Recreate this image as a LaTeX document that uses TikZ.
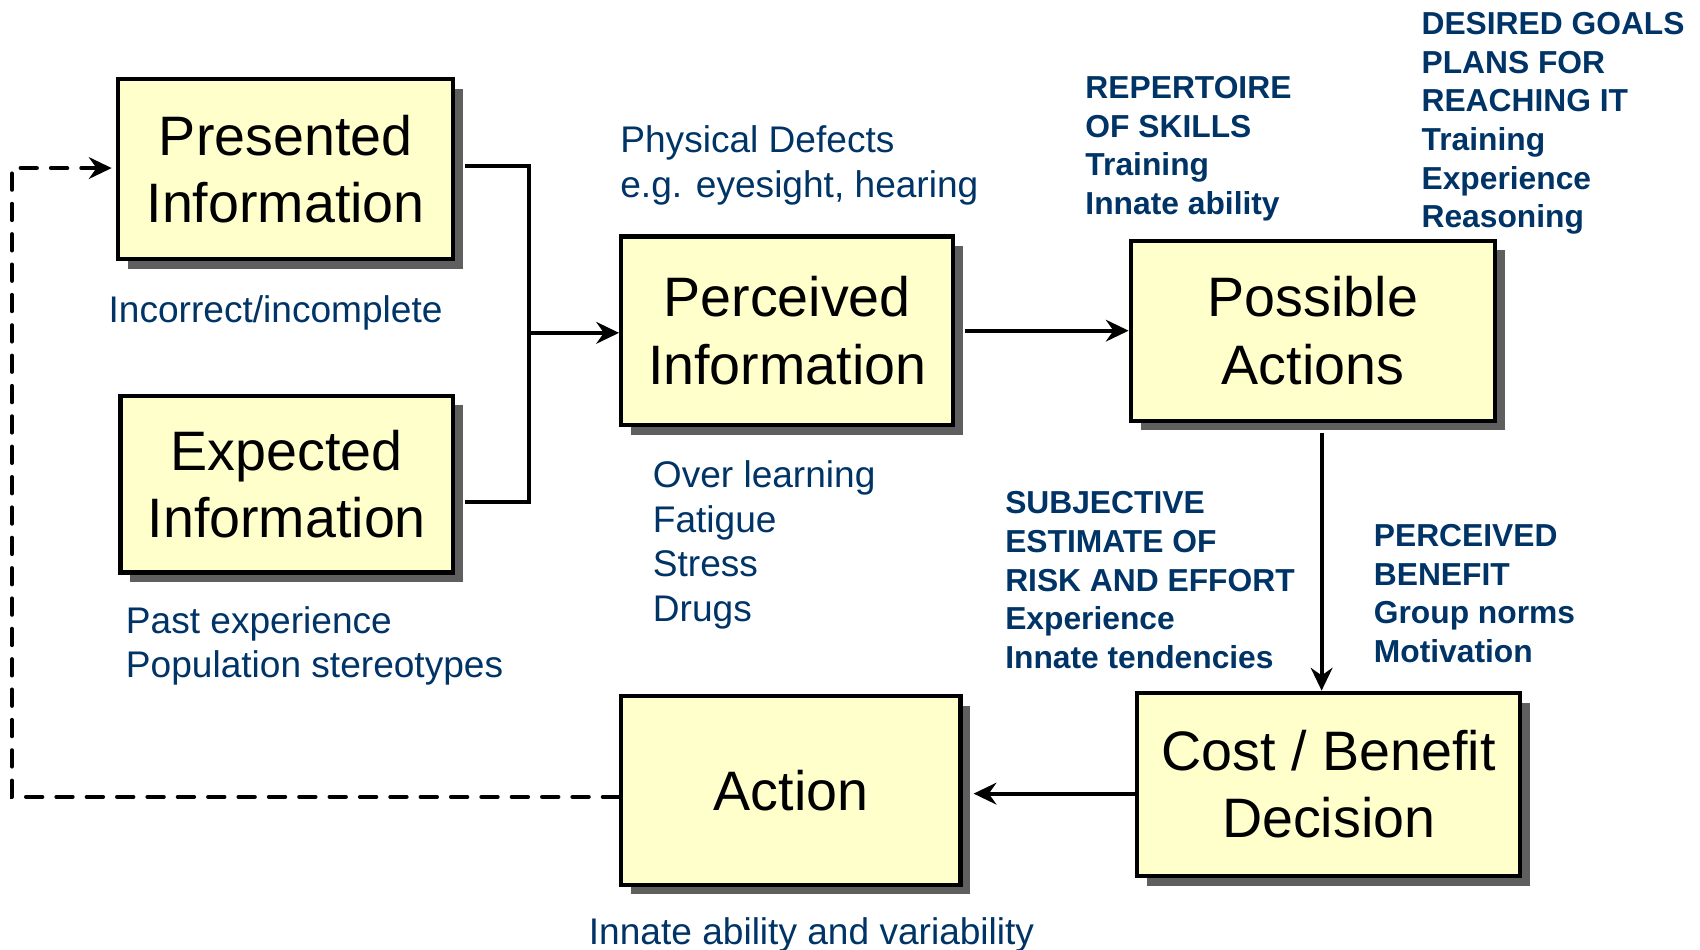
\documentclass[tikz,border=0pt]{standalone}
\usepackage{fontspec}
\setmainfont{Liberation Sans}
\usetikzlibrary{arrows.meta,shadows}

\definecolor{boxfill}{HTML}{FFFFCC}
\definecolor{shade}{HTML}{5F5F5F}
\definecolor{note}{RGB}{0,51,102}

% left-aligned block of lines whose anchor is the first baseline
\newcommand{\linesblock}[1]{\parbox[t]{560pt}{\raggedright #1}}

\begin{document}
\begin{tikzpicture}[x=1pt,y=-1pt,
  stage/.style={draw=black, line width=4pt, fill=boxfill, align=center,
    inner sep=0pt, font=\fontsize{51.3}{62}\selectfont,
    drop shadow={shadow xshift=9pt, shadow yshift=-9pt, fill=shade, opacity=1}},
  remark/.style={anchor=base west, inner sep=0pt, text=note,
    font=\fontsize{34.2}{41}\selectfont},
  factor/.style={anchor=base west, inner sep=0pt, text=note,
    font=\fontsize{29.3}{35.6}\selectfont\bfseries},
  flow/.style={line width=3.5pt, -{Stealth[length=21pt,width=20pt,inset=7pt]}},
  link/.style={line width=3.5pt},
  loopback/.style={line width=3.8pt, line cap=round, dash pattern=on 15pt off 13pt,
    -{Stealth[length=21pt,width=20pt,inset=7pt]}}]

\useasboundingbox (0,0) rectangle (1568,876);

% process stages
\node[stage, minimum width=309pt, minimum height=166pt] (pres) at (263.5,156) {Presented\\Information};
\node[stage, minimum width=307pt, minimum height=163pt] (expd) at (264.5,446.5) {Expected\\Information};
\node[stage, minimum width=306pt, minimum height=174pt] (perc) at (726,305) {Perceived\\Information};
\node[stage, minimum width=336pt, minimum height=166pt] (poss) at (1211,305) {Possible\\Actions};
\node[stage, minimum width=353pt, minimum height=169pt] (cost) at (1225.5,723.5) {Cost / Benefit\\Decision};
\node[stage, minimum width=313pt, minimum height=174pt] (act) at (729.5,729) {Action};

% influencing factors
\node[remark] (r1) at (572,141) {\linesblock{Physical Defects\\e.g. eyesight, hearing}};
\node[remark] (r2) at (100,297) {\linesblock{Incorrect/incomplete}};
\node[remark] (r3) at (116,584) {\linesblock{Past experience\\Population stereotypes}};
\node[remark] (r4) at (602,450) {\linesblock{Over learning\\Fatigue\\Stress\\Drugs}};
\node[remark] (r5) at (543,871) {\linesblock{Innate ability and variability}};

\node[factor] (f1) at (1001,91) {\linesblock{REPERTOIRE\\OF SKILLS\\Training\\Innate ability}};
\node[factor] (f2) at (1311,32) {\linesblock{DESIRED GOALS\\PLANS FOR\\REACHING IT\\Training\\Experience\\Reasoning}};
\node[factor] (f3) at (927,474) {\linesblock{SUBJECTIVE\\ESTIMATE OF\\RISK AND EFFORT\\Experience\\Innate tendencies}};
\node[factor] (f4) at (1267,504) {\linesblock{PERCEIVED\\BENEFIT\\Group norms\\Motivation}};

% connectors
\coordinate (join) at (488,307);
\coordinate (back) at (11,155);
\draw[link] ([xshift=9pt,yshift=3pt]pres.east) -| (join) |- ([xshift=9pt,yshift=-16.5pt]expd.east);
\draw[flow] (join) -- (join -| perc.west);
\draw[flow] ([xshift=9pt]perc.east) -- (poss.west);
\draw[flow] ([xshift=8pt,yshift=-9pt]poss.south) -- ([xshift=8pt]poss.south |- cost.north);
\draw[flow] ([yshift=-8.5pt]cost.west) -- ([xshift=10pt,yshift=-3pt]act.east);
\draw[loopback] ([yshift=-6pt]act.west) -| (back) -- ([xshift=-4pt]pres.west |- back);

\end{tikzpicture}
\end{document}
